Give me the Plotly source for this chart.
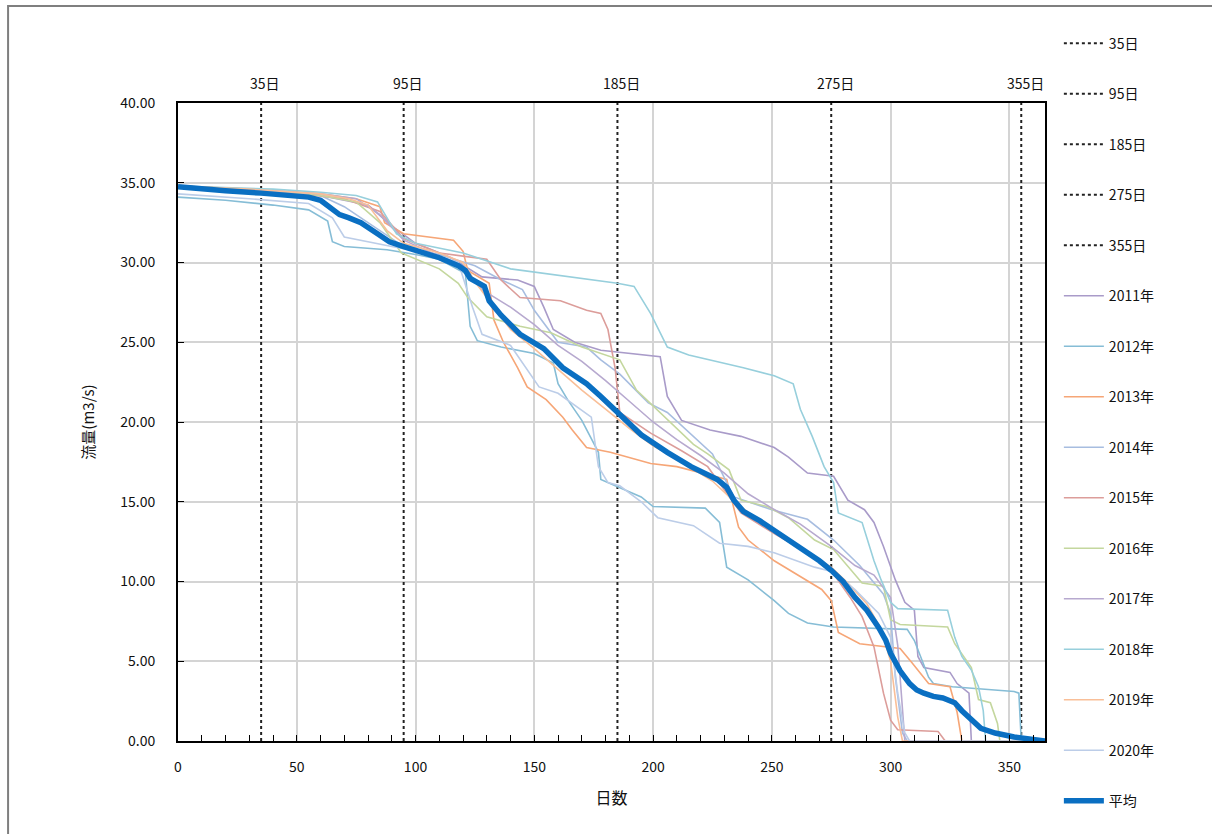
import plotly.graph_objects as go

# Flow duration curves (daily discharge ranked in descending order), m3/s
days_2011 = [0, 40, 60, 80, 90, 100, 115, 128, 143, 150, 154, 158, 167, 178, 203, 206, 212, 224, 237, 251, 257, 265, 276, 282, 289, 293, 297, 300, 302, 306, 310, 311.5, 314, 325, 328, 333, 334, 365]
flow_2011 = [34.8, 34.5, 34.2, 33.6, 32.3, 31.2, 30.3, 29.1, 28.9, 28.5, 27.2, 25.8, 25.0, 24.5, 24.1, 21.6, 20.1, 19.5, 19.1, 18.4, 17.8, 16.8, 16.6, 15.1, 14.5, 13.7, 12.2, 11.0, 10.1, 8.7, 8.2, 5.3, 4.6, 4.3, 3.6, 3.0, 0.0, 0.0]

days_2012 = [0, 20, 40, 55, 63, 65, 70, 88, 100, 110, 121, 123, 126, 136, 150, 158, 160, 164, 170, 177, 178, 186, 195, 200, 222, 228, 231, 240, 251, 257, 265, 276, 300, 307, 310, 316, 318, 326, 352, 354, 355, 365]
flow_2012 = [34.1, 33.9, 33.6, 33.3, 32.6, 31.3, 31.0, 30.8, 30.5, 30.2, 29.3, 26.0, 25.1, 24.7, 24.3, 23.7, 22.4, 21.4, 20.1, 18.1, 16.4, 15.9, 15.3, 14.7, 14.6, 13.7, 10.9, 10.1, 8.8, 8.0, 7.4, 7.15, 7.0, 7.0, 6.3, 4.0, 3.6, 3.4, 3.1, 3.0, 0.0, 0.0]

days_2013 = [0, 30, 60, 75, 81, 85, 87, 95, 116, 120, 122, 131, 133, 137, 143, 147, 155, 162, 166, 172, 182, 199, 210, 231, 236, 240, 251, 262, 271, 275, 278, 287, 304, 309, 316, 325, 328, 330, 365]
flow_2013 = [34.8, 34.6, 34.3, 34.0, 33.7, 33.5, 32.5, 31.8, 31.4, 30.7, 29.5, 28.7, 26.4, 25.0, 23.4, 22.2, 21.4, 20.3, 19.5, 18.4, 18.1, 17.4, 17.2, 16.4, 13.4, 12.6, 11.3, 10.3, 9.5, 8.8, 6.8, 6.1, 5.8, 4.9, 3.6, 3.4, 1.8, 0.0, 0.0]

days_2014 = [0, 40, 60, 70, 80, 95, 110, 125, 135, 145, 150, 160, 172, 178, 186, 198, 206, 216, 225, 234, 250, 265, 276, 287, 297, 300, 302, 305, 307, 365]
flow_2014 = [34.8, 34.5, 34.2, 33.5, 32.5, 31.0, 30.5, 29.8, 29.0, 28.3, 27.0, 25.0, 24.7, 23.9, 23.0, 21.2, 20.6, 19.2, 18.0, 15.3, 14.5, 13.9, 12.6, 11.0, 9.2, 8.0, 4.0, 0.5, 0.0, 0.0]

days_2015 = [0, 40, 70, 85, 95, 110, 120, 130, 136, 144, 161, 172, 178, 181, 184, 185, 186, 199, 212, 223, 237, 251, 265, 274, 283, 288, 293, 297, 300, 303, 320, 323, 365]
flow_2015 = [34.8, 34.5, 34.0, 33.2, 31.5, 30.6, 30.4, 30.2, 28.9, 27.8, 27.6, 27.0, 26.8, 25.8, 23.4, 21.8, 20.6, 19.3, 18.2, 17.2, 14.3, 13.0, 11.8, 10.9, 9.0, 7.8, 5.9, 3.0, 1.3, 0.7, 0.6, 0.0, 0.0]

days_2016 = [0, 40, 60, 75, 85, 94, 110, 118, 122, 130, 144, 157, 170, 178, 186, 193, 200, 210, 217, 223, 229, 232, 237, 248, 257, 268, 276, 288, 297, 300, 304, 324, 327, 334, 337, 342, 345, 346, 365]
flow_2016 = [34.8, 34.5, 34.2, 33.8, 32.5, 30.6, 29.6, 28.7, 27.8, 26.6, 26.0, 25.6, 24.7, 24.3, 23.9, 22.0, 21.0, 19.6, 18.6, 18.0, 17.3, 17.0, 15.1, 14.7, 14.0, 12.6, 12.0, 9.9, 9.7, 7.6, 7.3, 7.15, 6.1, 4.6, 2.6, 2.4, 1.1, 0.0, 0.0]

days_2017 = [0, 40, 60, 75, 85, 95, 110, 120, 128, 140, 150, 160, 170, 180, 190, 200, 210, 220, 230, 240, 250, 262, 275, 285, 293, 300, 303, 305, 306, 365]
flow_2017 = [34.8, 34.5, 34.3, 34.0, 33.0, 31.4, 30.4, 29.6, 28.3, 27.2, 26.1, 24.8, 23.8, 22.6, 21.3, 20.0, 18.9, 17.9, 16.8, 15.5, 14.6, 13.6, 12.2, 11.0, 10.4, 9.0, 6.0, 2.0, 0.0, 0.0]

days_2018 = [0, 40, 60, 75, 84, 92, 100, 120, 140, 160, 178, 185, 192, 199, 206, 215, 238, 251, 259, 262, 267, 272, 276, 278, 288, 293, 296, 300, 303, 324, 327, 330, 334, 337, 339, 340, 365]
flow_2018 = [34.8, 34.6, 34.4, 34.2, 33.8, 31.8, 31.2, 30.6, 29.6, 29.2, 28.8, 28.7, 28.5, 26.8, 24.7, 24.2, 23.4, 22.9, 22.4, 20.8, 19.1, 17.2, 16.2, 14.3, 13.7, 11.3, 10.1, 8.7, 8.3, 8.2, 6.5, 5.3, 4.45, 3.4, 1.9, 0.0, 0.0]

days_2019 = [0, 30, 60, 72, 80, 88, 95, 110, 120, 126, 132, 140, 150, 160, 170, 180, 190, 200, 212, 225, 235, 245, 255, 265, 275, 282, 290, 296, 300, 303, 305, 365]
flow_2019 = [34.8, 34.6, 34.3, 34.0, 33.6, 32.0, 31.2, 30.6, 30.0, 28.6, 27.4, 25.8, 24.6, 23.3, 22.0, 20.8, 19.6, 18.5, 17.5, 16.3, 14.9, 13.8, 12.8, 11.8, 10.9, 9.9, 8.6, 7.0, 5.0, 1.5, 0.0, 0.0]

days_2020 = [0, 30, 55, 65, 70, 90, 105, 118, 124, 128, 140, 152, 160, 174, 177, 181, 186, 195, 202, 217, 228, 240, 251, 268, 276, 285, 295, 300, 303, 306, 308, 365]
flow_2020 = [34.3, 34.0, 33.7, 32.8, 31.6, 31.0, 30.6, 30.0, 27.2, 25.5, 24.8, 22.2, 21.8, 20.3, 17.2, 16.2, 16.0, 15.0, 14.0, 13.5, 12.4, 12.2, 11.8, 10.9, 10.6, 9.5, 8.0, 6.5, 3.0, 0.5, 0.0, 0.0]

days_avg = [0, 10, 20, 35, 50, 55, 60, 64, 68, 72, 77, 84, 89, 95, 102, 110, 118, 121, 123, 127, 129, 131, 136, 144, 154, 162, 172, 178, 186, 195, 206, 216, 227, 231, 234, 238, 245, 251, 262, 270, 275, 280, 285, 290, 295, 298, 300, 304, 308, 311, 314, 318, 322, 327, 330, 333, 338, 344, 352, 360, 365]
flow_avg = [34.75, 34.6, 34.5, 34.35, 34.2, 34.1, 33.9, 33.4, 33.0, 32.8, 32.5, 31.8, 31.3, 31.0, 30.7, 30.3, 29.8, 29.5, 29.0, 28.7, 28.5, 27.6, 26.7, 25.5, 24.6, 23.4, 22.4, 21.6, 20.5, 19.2, 18.1, 17.2, 16.4, 15.9, 15.1, 14.4, 13.8, 13.2, 12.2, 11.3, 10.7, 10.0, 9.0, 8.2, 7.1, 6.3, 5.5, 4.4, 3.6, 3.2, 3.0, 2.8, 2.7, 2.4, 1.9, 1.5, 0.8, 0.5, 0.25, 0.1, 0.0]

# Reference days marked with dotted verticals
mark_days = [35, 95, 185, 275, 355]
mark_labels = ["35日", "95日", "185日", "275日", "355日"]

years = ["2011年", "2012年", "2013年", "2014年", "2015年", "2016年", "2017年", "2018年", "2019年", "2020年"]
year_days = [days_2011, days_2012, days_2013, days_2014, days_2015, days_2016, days_2017, days_2018, days_2019, days_2020]
year_flows = [flow_2011, flow_2012, flow_2013, flow_2014, flow_2015, flow_2016, flow_2017, flow_2018, flow_2019, flow_2020]
year_colors = ["#a99bc9", "#86bdd6", "#f6a677", "#a7bde0", "#dc9d9a", "#c4d79e", "#b7a9cf", "#97cfdc", "#f9bf98", "#bccde8"]

Y_MAX = 40
X_MAX = 365
FONT = "Noto Sans CJK JP"

fig = go.Figure()

for d, lab in zip(mark_days, mark_labels):
    fig.add_trace(go.Scatter(
        x=[d, d], y=[0, Y_MAX], mode="lines", name=lab, legendgroup=lab,
        line=dict(color="#222222", width=2, dash="dot"), hoverinfo="skip"))

for name, dx, fy, col in zip(years, year_days, year_flows, year_colors):
    fig.add_trace(go.Scatter(
        x=dx, y=fy, mode="lines", name=name, legendgroup=name,
        line=dict(color=col, width=1.6)))

fig.add_trace(go.Scatter(
    x=days_avg, y=flow_avg, mode="lines", name="平均", legendgroup="平均",
    line=dict(color="#0a6fc2", width=5.5)))

# Day labels above the plot frame
for d, lab in zip(mark_days, mark_labels):
    fig.add_annotation(x=d, y=1, xref="x", yref="paper", text=lab, showarrow=False,
                       yanchor="bottom", yshift=8, xshift=4,
                       font=dict(family=FONT, size=14, color="#111111"))

# Outer chart-area border
fig.add_shape(type="rect", xref="paper", yref="paper",
              x0=-0.196, x1=1.20, y0=-0.16, y1=1.152,
              line=dict(color="#7f7f7f", width=2), fillcolor="rgba(0,0,0,0)", layer="below")

fig.update_layout(
    width=1212, height=834,
    margin=dict(l=178, r=167, t=103, b=93),
    paper_bgcolor="white", plot_bgcolor="white",
    font=dict(family=FONT, size=14, color="#111111"),
    showlegend=True,
    legend=dict(x=1.016, y=1.118, xanchor="left", yanchor="top",
                tracegroupgap=29.3, traceorder="grouped", maxheight=834,
                font=dict(family=FONT, size=14, color="#111111"),
                bgcolor="rgba(0,0,0,0)", itemwidth=40),
    xaxis=dict(range=[0, X_MAX], dtick=50, tick0=0,
               showgrid=True, gridcolor="#d4d4d4", gridwidth=1.5,
               showline=True, linecolor="black", linewidth=2, mirror=True,
               ticks="inside", ticklen=6, tickcolor="black", ticklabelstandoff=12,
               minor=dict(dtick=10, ticks="inside", ticklen=6, tickcolor="black", showgrid=False),
               tickfont=dict(family=FONT, size=14), zeroline=False,
               title=dict(text="日数", font=dict(family=FONT, size=16), standoff=18)),
    yaxis=dict(range=[0, Y_MAX], dtick=5, tick0=0, tickformat=".2f",
               showgrid=True, gridcolor="#d4d4d4", gridwidth=1.5,
               showline=True, linecolor="black", linewidth=2, mirror=True,
               ticks="inside", ticklen=6, tickcolor="black", ticklabelstandoff=18,
               tickfont=dict(family=FONT, size=14), zeroline=False,
               title=dict(text="流量(m3/s)", font=dict(family=FONT, size=15), standoff=22)),
)

fig.write_html("out.html")
